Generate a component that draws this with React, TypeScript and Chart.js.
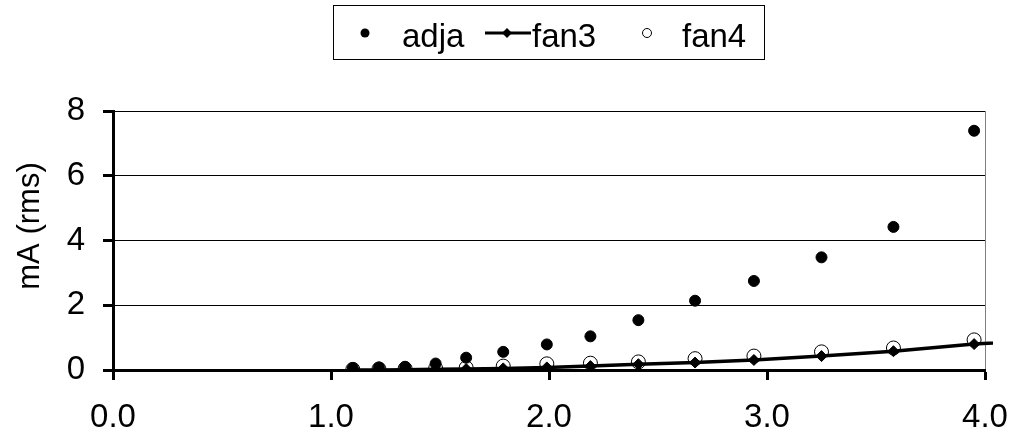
import React, { useEffect, useRef } from "react";
import { Chart, registerables } from "chart.js";

Chart.register(...registerables);

// ---- data ----
const seriesNames = ["adja", "fan3", "fan4"];
const xValues = [1.1, 1.22, 1.34, 1.48, 1.62, 1.79, 1.99, 2.19, 2.41, 2.67, 2.94, 3.25, 3.58, 3.95];
const fan3X = [1.1, 1.22, 1.34, 1.48, 1.62, 1.79, 1.99, 2.19, 2.41, 2.67, 2.94, 3.25, 3.58, 3.95, 4.36];
const adjaValues = [0.06, 0.08, 0.1, 0.2, 0.38, 0.56, 0.79, 1.04, 1.54, 2.14, 2.75, 3.48, 4.42, 7.39];
const fan3Values = [0.0, 0.0, 0.01, 0.02, 0.03, 0.05, 0.08, 0.12, 0.18, 0.23, 0.31, 0.43, 0.58, 0.8, 0.95];
const fan4Values = [0.02, 0.03, 0.04, 0.05, 0.07, 0.12, 0.19, 0.21, 0.25, 0.35, 0.43, 0.56, 0.68, 0.93];
const xTicks = [0, 1, 2, 3, 4];
const yTicks = [0, 2, 4, 6, 8];
const yTitle = "mA (rms)";

const FONT = "'Liberation Sans', Arial, sans-serif";

const toPoints = (xs: number[], ys: number[]) => ys.map((y, i) => ({ x: xs[i], y }));

const legendPlugin = {
  id: "boxLegend",
  afterDraw(chart: any) {
    const ctx = chart.ctx as CanvasRenderingContext2D;
    ctx.save();
    ctx.strokeStyle = "#000";
    ctx.lineWidth = 1;
    ctx.strokeRect(333.5, 5.5, 431, 54);
    ctx.font = `33px ${FONT}`;
    ctx.fillStyle = "#000";
    ctx.textBaseline = "alphabetic";
    ctx.textAlign = "left";
    const cy = 33;
    const base = 47;
    // adja
    ctx.beginPath();
    ctx.arc(365, cy, 4.5, 0, Math.PI * 2);
    ctx.fill();
    ctx.fillText(seriesNames[0], 402, base);
    // fan3
    ctx.beginPath();
    ctx.lineWidth = 3;
    ctx.moveTo(485, cy);
    ctx.lineTo(531, cy);
    ctx.stroke();
    ctx.beginPath();
    ctx.moveTo(507, cy - 5);
    ctx.lineTo(512, cy);
    ctx.lineTo(507, cy + 5);
    ctx.lineTo(502, cy);
    ctx.closePath();
    ctx.fill();
    ctx.fillText(seriesNames[1], 532, base);
    // fan4
    ctx.lineWidth = 1;
    ctx.beginPath();
    ctx.arc(647, cy, 4.5, 0, Math.PI * 2);
    ctx.stroke();
    ctx.fillText(seriesNames[2], 682, base);
    ctx.restore();
  },
};

const yTitlePlugin = {
  id: "yTitle",
  afterDraw(chart: any) {
    const ctx = chart.ctx as CanvasRenderingContext2D;
    ctx.save();
    ctx.translate(30, 226);
    ctx.rotate(-Math.PI / 2);
    ctx.font = `31px ${FONT}`;
    ctx.fillStyle = "#000";
    ctx.textAlign = "center";
    ctx.textBaseline = "middle";
    ctx.fillText(yTitle, 0, 0);
    ctx.restore();
  },
};

export default function App() {
  const ref = useRef<HTMLCanvasElement>(null);
  useEffect(() => {
    if (!ref.current) return;
    const chart = new Chart(ref.current, {
      type: "scatter",
      data: {
        datasets: [
          {
            label: seriesNames[0],
            data: toPoints(xValues, adjaValues),
            showLine: false,
            pointStyle: "circle",
            pointRadius: 5.5,
            backgroundColor: "#000",
            borderColor: "#000",
            borderWidth: 1,
            order: 0,
          },
          {
            label: seriesNames[1],
            data: toPoints(fan3X, fan3Values),
            showLine: true,
            pointStyle: "rectRot",
            pointRadius: 5.5,
            backgroundColor: "#000",
            borderColor: "#000",
            borderWidth: 3.5,
            pointBorderWidth: 1,
            clip: { left: 0, top: 0, right: 8, bottom: 0 } as any,
            order: 1,
          },
          {
            label: seriesNames[2],
            data: toPoints(xValues, fan4Values),
            showLine: false,
            pointStyle: "circle",
            pointRadius: 7,
            backgroundColor: "rgba(0,0,0,0)",
            borderColor: "#000",
            borderWidth: 1,
            order: 2,
          },
        ],
      },
      options: {
        responsive: false,
        animation: false,
        events: [],
        layout: { padding: { top: 111, right: 28, bottom: 0, left: 0 } },
        plugins: {
          legend: { display: false },
          tooltip: { enabled: false },
          title: { display: false },
        },
        scales: {
          x: {
            type: "linear",
            min: 0,
            max: 4,
            afterBuildTicks: (s: any) => {
              s.ticks = xTicks.map((v) => ({ value: v }));
            },
            afterFit: (s: any) => {
              s.height = 75;
              s.paddingLeft = 0;
              s.paddingRight = 0;
            },
            ticks: {
              color: "#000",
              font: { family: FONT, size: 33 },
              padding: 18,
              maxRotation: 0,
              callback: (v: any) => Number(v).toFixed(1),
            },
            grid: {
              color: (c: any) => (c.tick && c.tick.value === 4 ? "#808080" : "rgba(0,0,0,0)"),
              lineWidth: 1,
              tickColor: "#000",
              tickWidth: 3,
              tickLength: 10,
              drawTicks: true,
            },
            border: { display: true, color: "#000", width: 3 },
          },
          y: {
            type: "linear",
            min: 0,
            max: 8,
            afterBuildTicks: (s: any) => {
              s.ticks = yTicks.map((v) => ({ value: v }));
            },
            afterFit: (s: any) => {
              s.width = 113;
              s.paddingTop = 0;
              s.paddingBottom = 0;
            },
            ticks: {
              color: "#000",
              font: { family: FONT, size: 33 },
              padding: 18,
              callback: (v: any) => String(v),
            },
            grid: {
              color: "#000",
              lineWidth: 1,
              tickColor: "#000",
              tickWidth: 3,
              tickLength: 10,
              drawTicks: true,
            },
            border: { display: true, color: "#000", width: 3 },
          },
        },
      },
      plugins: [legendPlugin, yTitlePlugin],
    });
    return () => chart.destroy();
  }, []);
  return (
    <div style={{ position: "fixed", left: 0, top: 0, width: 1013, height: 445, background: "#fff" }}>
      <canvas ref={ref} width={1013} height={445} />
    </div>
  );
}
